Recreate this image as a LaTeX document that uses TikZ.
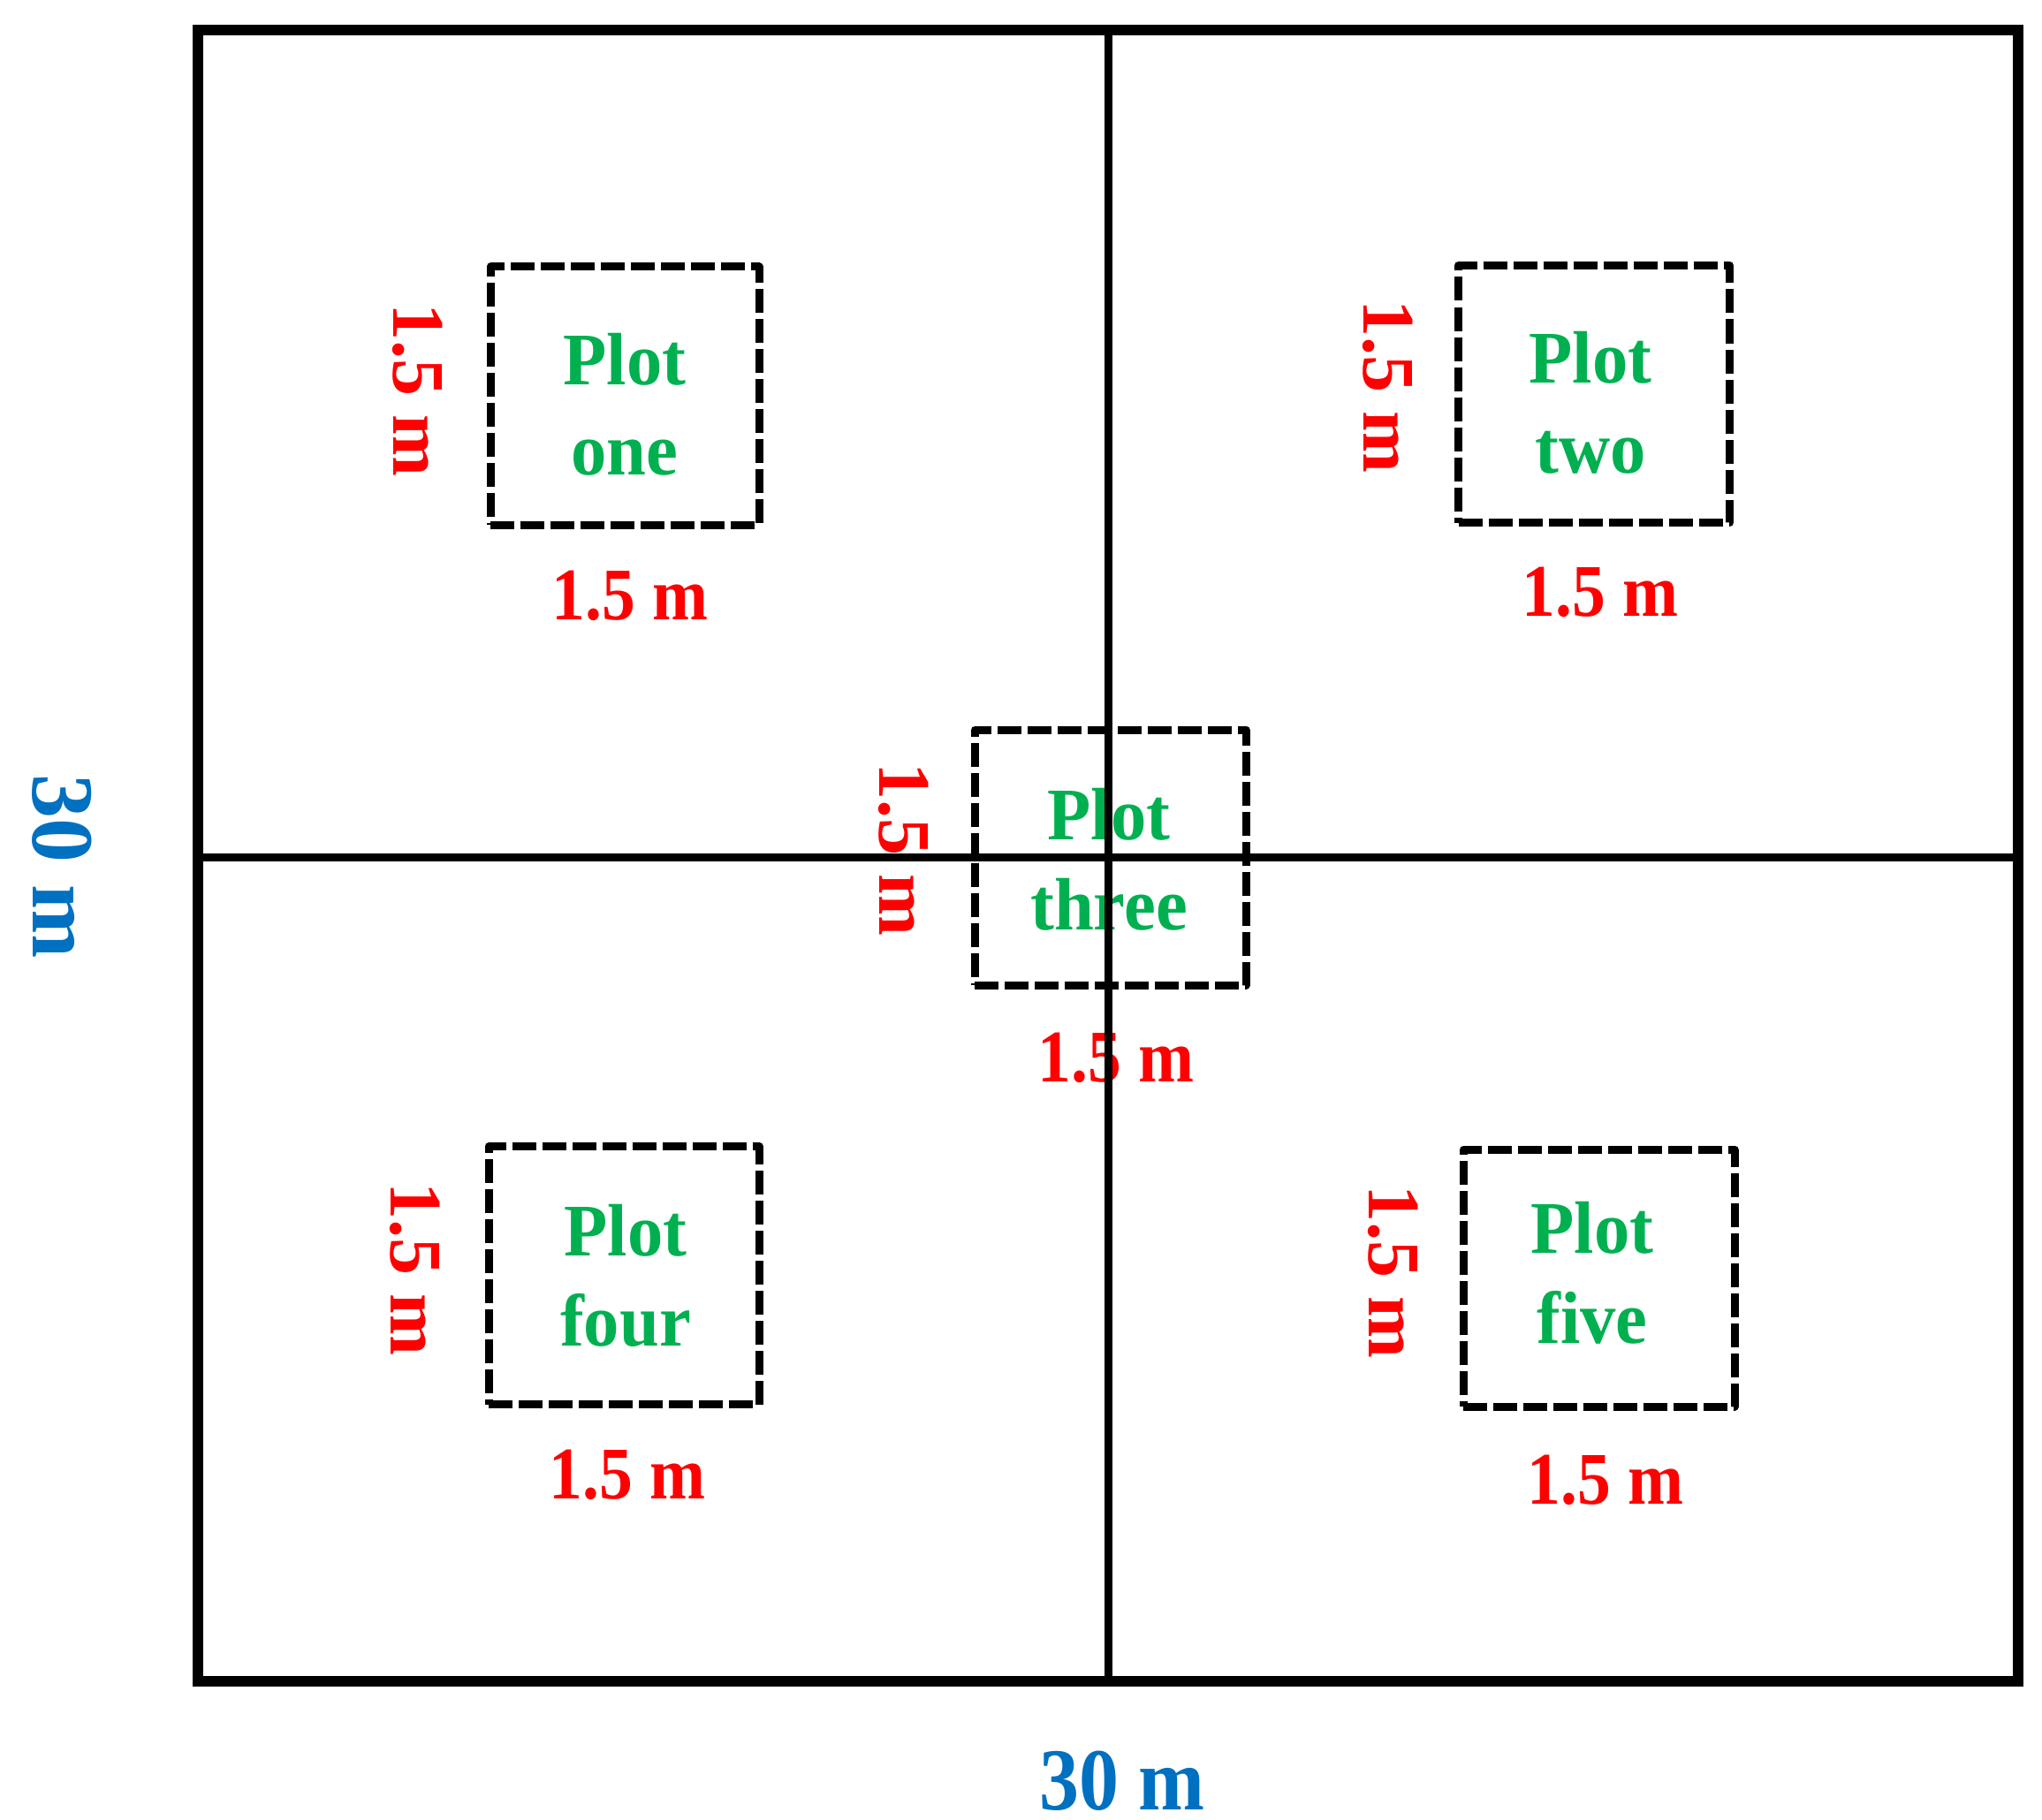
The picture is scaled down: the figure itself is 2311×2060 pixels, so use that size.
\documentclass[tikz,border=0pt]{standalone}
\usepackage{fontspec}
\setmainfont{Liberation Serif}
\newfontfamily\dimserif[FakeStretch=0.9]{Liberation Serif}
\newfontfamily\nameserif[FakeStretch=0.96]{Liberation Serif}
\definecolor{plotgreen}{RGB}{0,176,80}
\definecolor{dimred}{RGB}{255,0,0}
\definecolor{sizeblue}{RGB}{0,112,192}
\begin{document}
\begin{tikzpicture}[x=1pt,y=-1pt,
  plotbox/.style={draw=black, line width=9pt, dash pattern=on 27pt off 7pt, line join=round, inner sep=0pt},
  plotlabel/.style={text=plotgreen, font=\nameserif\fontsize{84}{102}\selectfont\bfseries, align=center, inner sep=0pt},
  dimlabel/.style={text=dimred, font=\dimserif\fontsize{84}{100}\selectfont\bfseries, inner sep=0pt},
  sidelabel/.style={text=dimred, font=\fontsize{84}{100}\selectfont\bfseries, inner sep=0pt, rotate=-90},
  sizelabel/.style={text=sizeblue, font=\dimserif\fontsize{100}{120}\selectfont\bfseries, inner sep=0pt},
  sizeside/.style={text=sizeblue, font=\fontsize{100}{120}\selectfont\bfseries, inner sep=0pt, rotate=-90},
  border/.style={draw=black, line width=12pt, line join=miter},
  divider/.style={draw=black, line width=9pt}]
\useasboundingbox (0,0) rectangle (2311,2060);

% outer field
\draw[border] (224,34) rectangle (2284,1903);
\coordinate (vtop) at (1254,34);
\coordinate (vbot) at (1254,1903);
\coordinate (hleft) at (224,970);
\coordinate (hright) at (2284,970);

% dashed plots
\node[plotbox, minimum width=304pt, minimum height=292pt] (box1) at (707,448) {};
\node[plotbox, minimum width=307pt, minimum height=291pt] (box2) at (1804,446) {};
\node[plotbox, minimum width=307pt, minimum height=289pt] (box3) at (1256.5,970.5) {};
\node[plotbox, minimum width=306pt, minimum height=292pt] (box4) at (706,1443.5) {};
\node[plotbox, minimum width=307pt, minimum height=291pt] (box5) at (1809.5,1446.5) {};

% plot names
\node[plotlabel] (name1) at (707,458) {Plot\\one};
\node[plotlabel] (name2) at (1800,455.5) {Plot\\two};
\node[plotlabel] (name3) at (1255,972.5) {Plot\\three};
\node[plotlabel] (name4) at (708,1444) {Plot\\four};
\node[plotlabel] (name5) at (1802,1440.5) {Plot\\five};

% plot dimensions
\node[sidelabel] (side1) at (473,441) {1.5 m};
\node[sidelabel] (side2) at (1571,437) {1.5 m};
\node[sidelabel] (side3) at (1023,961) {1.5 m};
\node[sidelabel] (side4) at (470,1436) {1.5 m};
\node[sidelabel] (side5) at (1577,1439) {1.5 m};
\node[dimlabel] (bot1) at (713,674) {1.5 m};
\node[dimlabel] (bot2) at (1811,670) {1.5 m};
\node[dimlabel] (bot3) at (1263,1197) {1.5 m};
\node[dimlabel] (bot4) at (710,1669) {1.5 m};
\node[dimlabel] (bot5) at (1817,1675) {1.5 m};

% field dimensions
\node[sizeside] (fieldh) at (70,981) {30 m};
\node[sizelabel] (fieldw) at (1270,2016) {30 m};

% dividing lines
\draw[divider] (vtop) -- (vbot);
\draw[divider] (hleft) -- (hright);
\end{tikzpicture}
\end{document}
